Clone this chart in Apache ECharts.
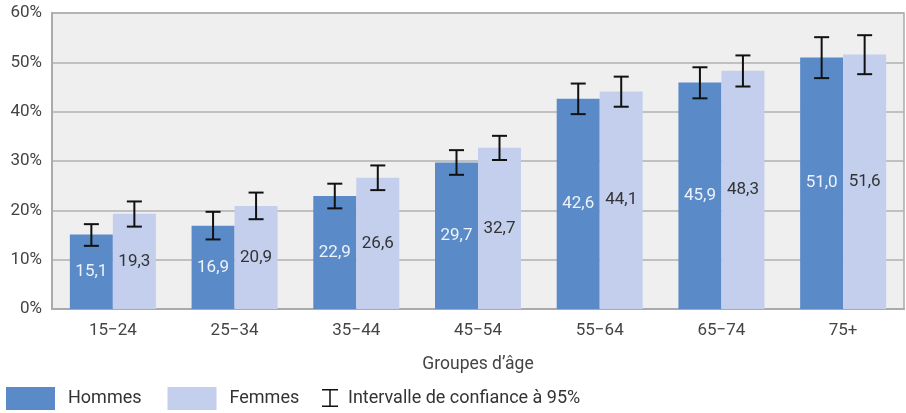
<!DOCTYPE html>
<html>
<head>
<meta charset="utf-8">
<style>
  html, body { margin: 0; padding: 0; background: #fff; }
  #chart { width: 906px; height: 413px; }
</style>
<script src="https://cdn.jsdelivr.net/npm/echarts@6/dist/echarts.min.js"></script>
</head>
<body>
<div id="chart"></div>
<script>
const categories = ["15\u221224", "25\u221234", "35\u221244", "45\u221254", "55\u221264", "65\u221274", "75+"];
const hommes = [15.1, 16.9, 22.9, 29.7, 42.6, 45.9, 51.0];
const femmes = [19.3, 20.9, 26.6, 32.7, 44.1, 48.3, 51.6];
// intervalles de confiance
const hommesLow = [12.8, 14.1, 20.4, 27.2, 39.5, 42.7, 46.8];
const hommesHigh = [17.2, 19.7, 25.4, 32.2, 45.7, 49.0, 55.1];
const femmesLow = [16.7, 18.2, 24.1, 30.2, 41.0, 45.1, 47.6];
const femmesHigh = [21.8, 23.6, 29.1, 35.1, 47.1, 51.4, 55.5];
const yTicks = [0, 10, 20, 30, 40, 50, 60];

const FONT = "Roboto";
const BAR_W = 43;
const CI_NAME = "Intervalle de confiance \u00e0 95%";

function errorBar(offset) {
    return function (params, api) {
        const x = api.coord([api.value(0), 0])[0] + offset;
        const lo = api.coord([api.value(0), api.value(1)])[1];
        const hi = api.coord([api.value(0), api.value(2)])[1];
        const cap = 7.5;
        const style = { stroke: "#111", lineWidth: 2 };
        return {
            type: "group",
            children: [
                { type: "line", shape: { x1: x, y1: hi, x2: x, y2: lo }, style: style },
                { type: "line", shape: { x1: x - cap, y1: hi, x2: x + cap, y2: hi }, style: style },
                { type: "line", shape: { x1: x - cap, y1: lo, x2: x + cap, y2: lo }, style: style },
            ],
        };
    };
}

const labelFmt = (p) => p.value.toFixed(1).replace(".", ",");

let myChart = echarts.init(document.getElementById("chart"));
let options = {
    animation: false,
    textStyle: { fontFamily: FONT },
    grid: {
        left: 52,
        right: 2,
        top: 13,
        bottom: 104,
        show: true,
        backgroundColor: "#efefef",
        borderColor: "#aaaaaa",
        borderWidth: 1.5,
    },
    legend: [
        {
            data: ["Hommes", "Femmes"],
            left: 6,
            top: 387,
            padding: 0,
            itemWidth: 49,
            itemHeight: 23,
            itemGap: 26,
            icon: "rect",
            textStyle: { color: "#333", fontSize: 18, fontFamily: FONT, padding: [0, 0, 0, 8] },
        },
        {
            data: [{
                name: CI_NAME,
                icon: "path://M0,0h16v1.5h-7.25v15h7.25v1.5h-16v-1.5h7.25v-15h-7.25z",
                itemStyle: { color: "#111" },
            }],
            left: 322,
            top: 389,
            padding: 0,
            itemWidth: 16,
            itemHeight: 18,
            textStyle: { color: "#333", fontSize: 18, fontFamily: FONT, padding: [0, 0, 0, 5] },
        },
    ],
    xAxis: {
        type: "category",
        data: categories,
        name: "Groupes d\u2019\u00e2ge",
        nameLocation: "middle",
        nameGap: 47,
        nameTextStyle: { color: "#444", fontSize: 17.5, fontFamily: FONT },
        axisLine: { lineStyle: { color: "#aaaaaa", width: 2 } },
        axisTick: { show: false },
        axisLabel: { color: "#444", fontSize: 17, margin: 13, fontFamily: FONT },
    },
    yAxis: {
        type: "value",
        min: yTicks[0],
        max: yTicks[yTicks.length - 1],
        interval: 10,
        axisLine: { show: true, lineStyle: { color: "#aaaaaa", width: 2 } },
        axisTick: { show: false },
        axisLabel: { formatter: "{value}%", color: "#444", fontSize: 17, margin: 10, fontFamily: FONT },
        splitLine: { lineStyle: { color: "#b0b0b0", width: 1.5 } },
    },
    series: [
        {
            name: "Hommes",
            type: "bar",
            data: hommes,
            barWidth: BAR_W,
            barGap: 0,
            itemStyle: { color: "#5a8bc8" },
            label: {
                show: true,
                position: "inside",
                color: "#eef2fa",
                fontSize: 17,
                fontFamily: FONT,
                formatter: labelFmt,
            },
        },
        {
            name: "Femmes",
            type: "bar",
            data: femmes,
            barWidth: BAR_W,
            barGap: 0,
            itemStyle: { color: "#c3cfec" },
            label: {
                show: true,
                position: "inside",
                color: "#333",
                fontSize: 17,
                fontFamily: FONT,
                formatter: labelFmt,
            },
        },
        {
            name: CI_NAME,
            type: "custom",
            renderItem: errorBar(-BAR_W / 2),
            data: categories.map((c, i) => [i, hommesLow[i], hommesHigh[i]]),
            z: 10,
        },
        {
            name: CI_NAME,
            type: "custom",
            renderItem: errorBar(BAR_W / 2),
            data: categories.map((c, i) => [i, femmesLow[i], femmesHigh[i]]),
            z: 10,
        },
    ],
};
myChart.setOption(options);
</script>
</body>
</html>
